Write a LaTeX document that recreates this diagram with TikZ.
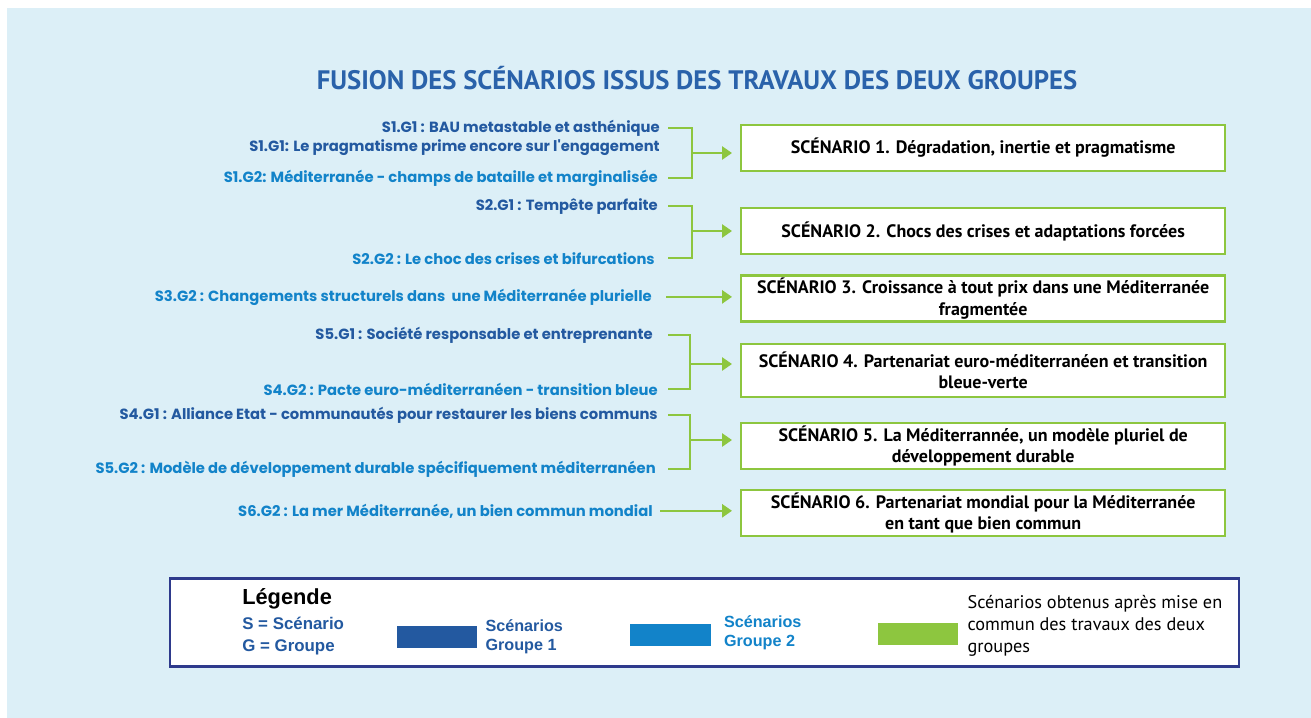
\documentclass[tikz,border=0pt]{standalone}
\usepackage{fontspec}
\setmainfont{PT Sans}
\newfontfamily\poppins{Poppins}
\newfontfamily\legfont{Liberation Sans}
\usetikzlibrary{positioning, arrows.meta}

\definecolor{fond}{HTML}{DCEFF7}
\definecolor{bleuG1}{HTML}{2359A0}
\definecolor{bleuG2}{HTML}{1283C9}
\definecolor{vert}{HTML}{8DC63F}
\definecolor{marine}{HTML}{2E3A8C}
\definecolor{titre}{HTML}{2A62AA}

\begin{document}
\begin{tikzpicture}[x=0.025cm, y=-0.025cm,
	groupeun/.style={anchor=base east, inner sep=0pt, text=bleuG1, font=\poppins\bfseries\fontsize{10.5}{12}\selectfont},
	groupedeux/.style={groupeun, text=bleuG2},
	scenario/.style={rectangle, draw=vert, line width=1.6pt, fill=white, minimum width=12.1cm, minimum height=1.15cm, inner ysep=1pt, align=center, font=\bfseries\fontsize{12.8}{15}\selectfont},
	liaison/.style={draw=vert, line width=1.6pt},
	fleche/.style={liaison, -{Triangle[length=0.25cm, width=0.33cm]}, shorten >=0.2cm},
	echantillon/.style={rectangle, minimum width=2cm, minimum height=0.55cm, inner sep=0pt},
	legtexte/.style={align=left, inner sep=0pt, text=bleuG1, font=\legfont\bfseries\fontsize{11.5}{13.5}\selectfont}]
					\useasboundingbox (0,0) rectangle (1311,718);
					\fill[fond] (7,8) rectangle (1311,718);
					
					% Titre
					\node[text=titre, font=\bfseries\fontsize{19}{21}\selectfont] (titre) at (697,78) {FUSION DES SCÉNARIOS ISSUS DES TRAVAUX DES DEUX GROUPES};
					
					% Scénarios fusionnés
					\node[scenario, anchor=west] (sc1) at (740,148) {SCÉNARIO 1. Dégradation, inertie et pragmatisme};
					\node[scenario, below=0.875cm of sc1] (sc2) {SCÉNARIO 2. Chocs des crises et adaptations forcées};
					\node[scenario, below=0.475cm of sc2] (sc3) {SCÉNARIO 3. Croissance à tout prix dans une Méditerranée\\fragmentée};
					\node[scenario, below=0.5cm of sc3, minimum height=1.325cm] (sc4) {SCÉNARIO 4. Partenariat euro-méditerranéen et transition\\bleue-verte};
					\node[scenario, below=0.6cm of sc4] (sc5) {SCÉNARIO 5. La Méditerrannée, un modèle pluriel de\\développement durable};
					\node[scenario, below=0.475cm of sc5] (sc6) {SCÉNARIO 6. Partenariat mondial pour la Méditerranée\\en tant que bien commun};
					
					% Scénarios des groupes
					\node[groupeun] (s1a) at (660,132) {S1.G1 : BAU metastable et asthénique};
					\node[groupeun] (s1b) at (660,151) {S1.G1: Le pragmatisme prime encore sur l'engagement};
					\node[groupedeux] (s1c) at (658,182) {S1.G2: Méditerranée - champs de bataille et marginalisée};
					\node[groupeun] (s2a) at (658,210) {S2.G1 : Tempête parfaite};
					\node[groupedeux] (s2b) at (655,264) {S2.G2 : Le choc des crises et bifurcations};
					\node[groupedeux] (s3) at (652,301) {S3.G2 : Changements structurels dans~ une Méditerranée plurielle};
					\node[groupeun] (s4a) at (653,339) {S5.G1 : Société responsable et entreprenante};
					\node[groupedeux] (s4b) at (658,395) {S4.G2 : Pacte euro-méditerranéen - transition bleue};
					\node[groupeun] (s5a) at (658,419) {S4.G1 : Alliance Etat - communautés pour restaurer les biens communs};
					\node[groupedeux] (s5b) at (656,473) {S5.G2 : Modèle de développement durable spécifiquement méditerranéen};
					\node[groupedeux] (s6) at (653,516) {S6.G2 : La mer Méditerranée, un bien commun mondial};
					
					% Liaisons
					\coordinate (d1) at (668,0);
					\coordinate (j1) at (692,153);
					\coordinate (j2) at (692,231);
					\coordinate (j4) at (690,364);
					\coordinate (j5) at (690,440);
					\draw[liaison] (s1a.east -| d1) -| (j1) |- (s1c.east -| d1);
					\draw[liaison] (s2a.east -| d1) -| (j2) |- (s2b.east -| d1);
					\draw[liaison] (s4a.east -| d1) -| (j4) |- (s4b.east -| d1);
					\draw[liaison] (s5a.east -| d1) -| (j5) |- (s5b.east -| d1);
					\draw[fleche] (j1) -- (j1 -| sc1.west);
					\draw[fleche] (j2) -- (j2 -| sc2.west);
					\draw[fleche] ([xshift=0.35cm]s3.east) -- (s3.east -| sc3.west);
					\draw[fleche] (j4) -- (j4 -| sc4.west);
					\draw[fleche] (j5) -- (j5 -| sc5.west);
					\draw[fleche] ([xshift=0.175cm]s6.east) -- (s6.east -| sc6.west);
					
					% Légende
					\node[rectangle, draw=marine, line width=1.5pt, fill=white, minimum width=26.7cm, minimum height=2.2cm] (legende) at (704.5,622.5) {};
					\node[anchor=base west, inner sep=0pt, font=\legfont\bfseries\fontsize{15.5}{17}\selectfont] (legtitre) at (242,604) {Légende};
					\node[legtexte, anchor=west, font=\legfont\bfseries\fontsize{12}{15.6}\selectfont] (abrev) at (242,636) {S = Scénario\\G = Groupe};
					\node[echantillon, fill=bleuG1] (ech1) at (437,637) {};
					\node[legtexte, right=0.2cm of ech1] (leg1) {Scénarios\\Groupe 1};
					\node[echantillon, fill=bleuG2] (ech2) at (670.5,634.5) {};
					\node[legtexte, right=0.325cm of ech2, text=bleuG2, yshift=0.05cm] (leg2) {Scénarios\\Groupe 2};
					\node[echantillon, fill=vert] (ech3) at (918,634) {};
					\node[legtexte, right=0.225cm of ech3, yshift=0.2cm, text=black, font=\rmfamily\mdseries\fontsize{13}{15.6}\selectfont] (leg3) {Scénarios obtenus après mise en\\commun des travaux des deux\\groupes};
				\end{tikzpicture}
\end{document}
